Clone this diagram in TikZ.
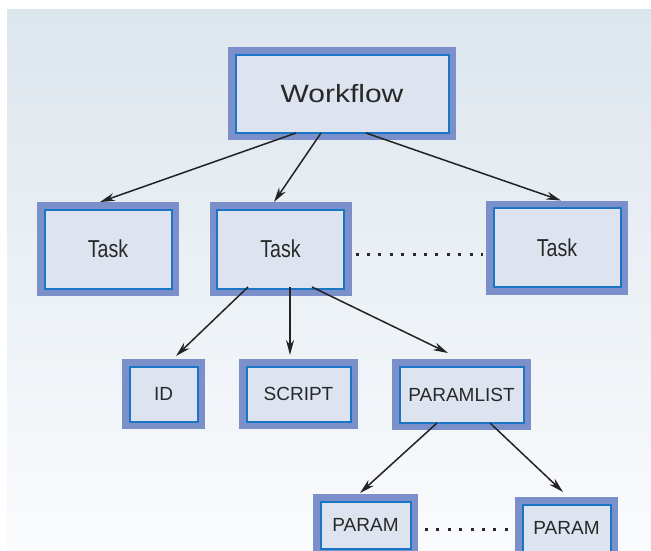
\documentclass[tikz,border=0pt]{standalone}
\usepackage{fontspec}
\setmainfont{Liberation Sans}
\usetikzlibrary{arrows.meta}
\definecolor{wfframe}{RGB}{123,144,203}
\definecolor{wfline}{RGB}{26,118,196}
\definecolor{wffill}{RGB}{221,228,239}
\definecolor{wftext}{RGB}{40,40,40}
\definecolor{wfarrow}{RGB}{35,35,35}
\definecolor{bgtop}{RGB}{220,230,237}
\definecolor{bgbottom}{RGB}{250,251,253}
\tikzstyle{box} = [draw=wfline, line width=2pt, fill=wffill, text=wftext, inner sep=0pt, outer sep=7.5pt, preaction={draw=wfframe, line width=15pt}]
\tikzstyle{task} = [box, minimum width=127pt, minimum height=79pt, font=\fontsize{24.5}{29}\selectfont]
\tikzstyle{leaf} = [box, minimum height=55pt, font=\fontsize{19}{23}\selectfont]
\tikzstyle{arrow} = [line width=1.5pt, -{Stealth[length=15pt,width=8pt]}, color=wfarrow]
\tikzstyle{dotrow} = [line width=3pt, dash pattern=on 3pt off 8.4pt, color=wftext]

\begin{document}
\begin{tikzpicture}[x=1pt,y=-1pt]
\useasboundingbox (0,0) rectangle (651,550);
% Background
\shade[top color=bgtop, bottom color=bgbottom] (7,9) rectangle (651,550);

% Boxes
\node[box, minimum width=213pt, minimum height=78pt, font=\fontsize{25}{30}\selectfont] (wf) at (342,93.5) {\scalebox{1.2}[1]{Workflow}};

\node[task] (t1) at (108,249) {\scalebox{0.8}[1]{Task}};
\node[task] (t2) at (280.5,249) {\scalebox{0.8}[1]{Task}};
\node[task] (t3) at (557,247.5) {\scalebox{0.8}[1]{Task}};

\node[leaf, minimum width=68pt] (id) at (163.5,394) {ID};
\node[leaf, minimum width=104pt] (script) at (298.5,394) {SCRIPT};
\node[leaf, minimum width=124pt, minimum height=56pt] (plist) at (461.5,394.5) {PARAMLIST};

\node[leaf, minimum width=90pt, minimum height=47pt] (p1) at (365.5,525) {PARAM};
\node[leaf, minimum width=88pt, minimum height=47pt] (p2) at (566.5,528) {PARAM};

% Arrows
\draw[arrow] ([xshift=-46pt,yshift=7pt]wf.south) -- ([xshift=-8pt]t1.north);
\draw[arrow] ([xshift=-21pt,yshift=7pt]wf.south) -- ([xshift=-6.5pt]t2.north);
\draw[arrow] ([xshift=24pt,yshift=7pt]wf.south) -- ([xshift=4pt]t3.north);

\draw[arrow] ([xshift=-32.5pt,yshift=9pt]t2.south) -- ([xshift=12.5pt,yshift=3pt]id.north);
\draw[arrow] ([xshift=9.5pt,yshift=9pt]t2.south) -- ([xshift=-8.5pt,yshift=4pt]script.north);
\draw[arrow] ([xshift=31.5pt,yshift=9pt]t2.south) -- ([xshift=-13.5pt,yshift=6pt]plist.north);

\draw[arrow] ([xshift=-24.5pt,yshift=7pt]plist.south) -- ([xshift=-5.5pt,yshift=1pt]p1.north);
\draw[arrow] ([xshift=28.5pt,yshift=7pt]plist.south) -- ([xshift=-3.5pt,yshift=5pt]p2.north);

% Dotted gaps
\draw[dotrow, shorten <=4pt, shorten >=2.7pt] ([yshift=-5pt]t2.east) -- ([yshift=-5pt]t2.east -| t3.west);
\draw[dotrow, shorten <=7pt, shorten >=7pt] ([yshift=-4pt]p1.east) -- ([yshift=-4pt]p1.east -| p2.west);
\end{tikzpicture}
\end{document}
